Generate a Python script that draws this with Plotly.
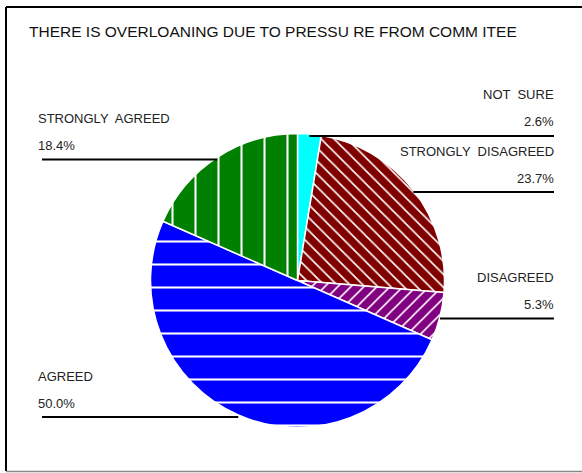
import math
import plotly.graph_objects as go

# Survey responses (clockwise from 12 o'clock)
labels = ["NOT  SURE", "STRONGLY  DISAGREED", "DISAGREED", "AGREED", "STRONGLY  AGREED"]
values = [2.6, 23.7, 5.3, 50.0, 18.4]
colors = ["#00FFFF", "#800000", "#800080", "#0000FF", "#008000"]
hatches = ["", "\\", "/", "-", "|"]
hatch_sizes = [8, 9.2, 9.2, 23, 23]
hatch_solidity = [0.2, 0.17, 0.17, 0.09, 0.09]

title_text = "THERE IS OVERLOANING DUE TO PRESSU RE FROM COMM ITEE"

W, H = 582, 473
CX, CY, R = 297.5, 280.5, 147.0  # pie centre and radius, px


def px(x):
    return x / W


def py(y):
    return 1 - y / H


fig = go.Figure(
    go.Pie(
        labels=labels,
        values=values,
        sort=False,
        direction="clockwise",
        rotation=0,
        textinfo="none",
        hoverinfo="label+percent",
        showlegend=False,
        domain=dict(x=[px(CX - R), px(CX + R)], y=[py(CY + R), py(CY - R)]),
        marker=dict(
            colors=colors,
            line=dict(color="white", width=1.5),
            pattern=dict(
                shape=hatches,
                fgcolor="white",
                bgcolor=colors,
                size=hatch_sizes,
                solidity=hatch_solidity,
                fillmode="replace",
            ),
        ),
    )
)

shapes = []
annotations = []
font = dict(family="Arial, Liberation Sans", size=13, color="#222222")

total = sum(values)
cum = 0.0
for lab, v in zip(labels, values):
    mid = (cum + v / 2) / total * 2 * math.pi
    cum += v
    ex = CX + R * math.sin(mid)
    ey = CY - R * math.cos(mid) + 2
    right = math.sin(mid) > 0
    if right:
        x0, x1, tx, anchor = ex, 554, 556, "right"
    else:
        x0, x1, tx, anchor = 42, ex, 36, "left"
    shapes.append(dict(type="line", xref="paper", yref="paper",
                       x0=px(x0), x1=px(x1), y0=py(ey), y1=py(ey),
                       line=dict(color="black", width=2)))
    annotations.append(dict(text=lab, x=px(tx), y=py(ey - 41), xref="paper", yref="paper",
                            xanchor=anchor, yanchor="middle", showarrow=False, font=font))
    annotations.append(dict(text=f"{v:.1f}%", x=px(tx), y=py(ey - 14), xref="paper", yref="paper",
                            xanchor=anchor, yanchor="middle", showarrow=False, font=font))

# Title
annotations.append(dict(text=title_text, x=px(273), y=py(32), xref="paper", yref="paper",
                        xanchor="center", yanchor="middle", showarrow=False,
                        font=dict(family="Arial, Liberation Sans", size=15.5, color="#111111")))

# Chart frame
shapes.append(dict(type="line", xref="paper", yref="paper", x0=px(6), x1=px(590),
                   y0=py(7), y1=py(7), line=dict(color="black", width=2)))
shapes.append(dict(type="line", xref="paper", yref="paper", x0=px(6), x1=px(6),
                   y0=py(7), y1=py(471), line=dict(color="black", width=2)))
shapes.append(dict(type="line", xref="paper", yref="paper", x0=px(6), x1=px(590),
                   y0=py(471.5), y1=py(471.5), line=dict(color="#888888", width=1.5)))

fig.update_layout(
    width=W,
    height=H,
    margin=dict(l=0, r=0, t=0, b=0),
    paper_bgcolor="white",
    plot_bgcolor="white",
    shapes=shapes,
    annotations=annotations,
)

fig.write_html("out.html")
